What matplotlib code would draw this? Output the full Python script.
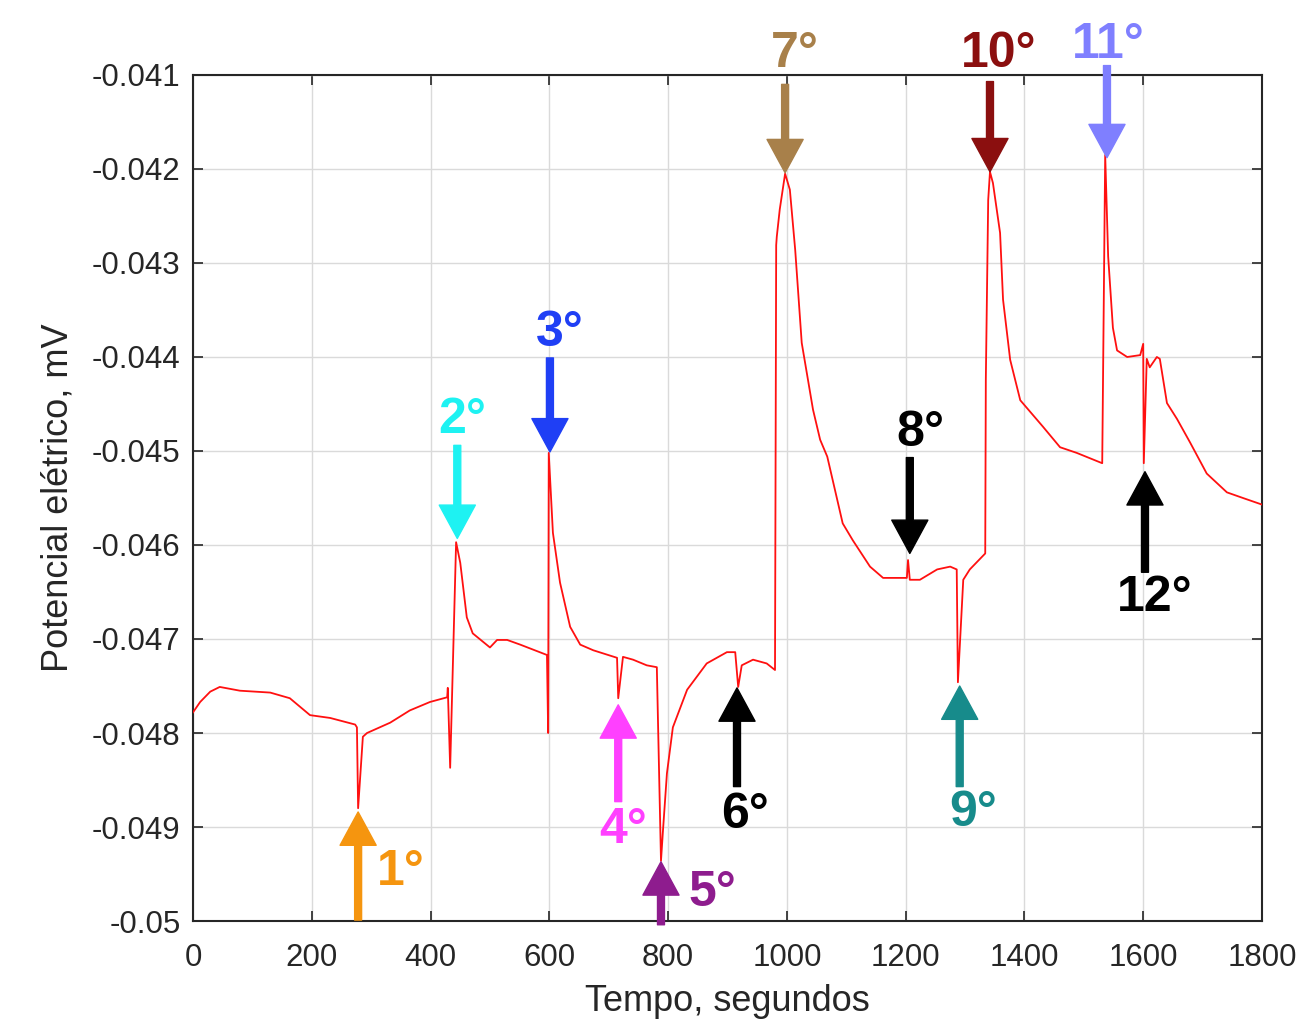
import matplotlib.pyplot as plt

# Curva de potencial (tempo em s, potencial em mV)
tempo = [0, 12, 29, 45, 79, 130, 163, 197, 231, 273, 276, 278, 286, 293, 332, 365,
         399, 428, 429, 433, 443, 450, 461, 471, 500, 512, 529, 551, 596, 598, 599,
         606, 618, 635, 652, 674, 714, 716, 724, 741, 764, 781, 788, 791, 798, 808,
         832, 865, 899, 913, 918, 924, 943, 966, 980, 982, 983, 988, 997, 1005, 1014,
         1025, 1044, 1056, 1068, 1094, 1111, 1140, 1162, 1196, 1202, 1204, 1207, 1224,
         1253, 1275, 1286, 1288, 1297, 1308, 1334, 1335, 1339, 1342, 1347, 1359, 1364,
         1376, 1393, 1431, 1460, 1488, 1531, 1536, 1541, 1549, 1556, 1573, 1595, 1600,
         1601, 1606, 1611, 1623, 1628, 1640, 1657, 1679, 1707, 1741, 1768, 1800]
potencial = [-0.04778, -0.04767, -0.04756, -0.04751, -0.04755, -0.04757, -0.04763,
             -0.04781, -0.04784, -0.04791, -0.04794, -0.04880, -0.04804, -0.04800,
             -0.04789, -0.04776, -0.04767, -0.04762, -0.04752, -0.04837, -0.04597,
             -0.04619, -0.04677, -0.04694, -0.04709, -0.04701, -0.04701, -0.04706,
             -0.04717, -0.04800, -0.04502, -0.04587, -0.04640, -0.04687, -0.04706,
             -0.04712, -0.04720, -0.04763, -0.04719, -0.04722, -0.04728, -0.04730,
             -0.04936, -0.04907, -0.04843, -0.04794, -0.04754, -0.04726, -0.04714,
             -0.04714, -0.04751, -0.04728, -0.04722, -0.04726, -0.04733, -0.04281,
             -0.04272, -0.04243, -0.04205, -0.04222, -0.04286, -0.04385, -0.04456,
             -0.04488, -0.04506, -0.04577, -0.04595, -0.04623, -0.04635, -0.04635,
             -0.04635, -0.04616, -0.04637, -0.04637, -0.04626, -0.04623, -0.04626,
             -0.04746, -0.04637, -0.04626, -0.04609, -0.04424, -0.04233, -0.04203,
             -0.04215, -0.04268, -0.04339, -0.04403, -0.04446, -0.04474, -0.04496,
             -0.04502, -0.04513, -0.04185, -0.04293, -0.04369, -0.04393, -0.04400,
             -0.04398, -0.04386, -0.04513, -0.04402, -0.04411, -0.04400, -0.04402,
             -0.04449, -0.04466, -0.04491, -0.04524, -0.04544, -0.04550, -0.04557]

# Marcacoes das adicoes (setas)
rotulos = ["1°", "2°", "3°", "4°", "5°", "6°", "7°", "8°", "9°", "10°", "11°", "12°"]
cores = ["#F5950F", "#1EF2F2", "#1F3FF5", "#FF40FF", "#8E1C8E", "#000000",
         "#A8804A", "#000000", "#178B8B", "#8B0F0F", "#7F7FFF", "#000000"]
t_seta = [278, 445, 601, 716, 788, 916, 997, 1207, 1291, 1342, 1539, 1603]
v_ponta = [-0.04884, -0.04593, -0.04501, -0.04770, -0.04937, -0.04752,
           -0.04204, -0.04609, -0.04750, -0.04203, -0.04188, -0.04522]
v_cauda = [-0.04999, -0.04494, -0.04401, -0.04873, -0.05004, -0.04857,
           -0.04110, -0.04507, -0.04857, -0.04107, -0.04090, -0.04629]
t_rotulo = [349, 453, 618, 724, 874, 929, 1014, 1224, 1313, 1357, 1541, 1620]
v_rotulo = [-0.04948, -0.04467, -0.04374, -0.04903, -0.04970, -0.04887,
            -0.04078, -0.04481, -0.04885, -0.04078, -0.04068, -0.04656]

plt.rcParams['font.family'] = ['Liberation Sans', 'DejaVu Sans']

fig = plt.figure(figsize=(13.14, 10.23), dpi=100)
ax = fig.add_axes([0.1469, 0.0997, 0.8135, 0.827])

ax.plot(tempo, potencial, color="#FF1010", linewidth=1.3, zorder=3)

for i in range(len(rotulos)):
    ax.annotate("", xy=(t_seta[i], v_ponta[i]), xytext=(t_seta[i], v_cauda[i]),
                arrowprops=dict(width=5, headwidth=26, headlength=24, color=cores[i],
                                shrink=0),
                annotation_clip=False, zorder=4)
    ax.text(t_rotulo[i], v_rotulo[i], rotulos[i], color=cores[i], fontsize=36,
            fontweight="bold", ha="center", va="center", clip_on=False, zorder=5)

ax.set_xlim(0, 1800)
ax.set_ylim(-0.05, -0.041)
ax.set_xticks(range(0, 1801, 200))
ax.set_yticks([-0.05 + 0.001 * k for k in range(10)])
ax.set_yticklabels(["-0.05", "-0.049", "-0.048", "-0.047", "-0.046", "-0.045",
                    "-0.044", "-0.043", "-0.042", "-0.041"])

ax.grid(True, color="#DADADA", linewidth=1.0)
ax.set_axisbelow(True)
ax.tick_params(direction="in", length=7, width=1.2, top=True, right=True,
               labelsize=22.5, colors="#262626", pad=9)
ax.tick_params(axis="x", pad=16)
for s in ax.spines.values():
    s.set_linewidth(1.5)
    s.set_color("#262626")

ax.set_xlabel("Tempo, segundos", fontsize=26, color="#262626", labelpad=8)
ax.set_ylabel("Potencial elétrico, mV", fontsize=26, color="#262626", labelpad=12)

fig.savefig("out.png", dpi=100)
